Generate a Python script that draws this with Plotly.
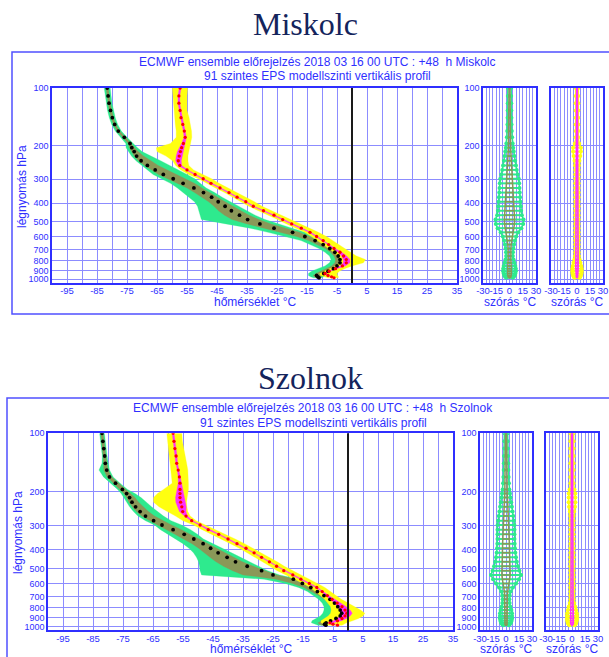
import math
import plotly.graph_objects as go

W, H = 609, 657

# ---------------- data ----------------
pressure_hpa = [100, 110, 120, 131, 143, 155, 168, 181, 195, 205, 215, 227, 240, 254, 268, 283, 298, 315,
                333, 352, 372, 393, 415, 438, 462, 487, 513, 540, 568, 597, 627, 658, 690, 722, 755, 788,
                820, 851, 880, 907, 932, 955, 970, 982]

temp_ticks = [-95, -85, -75, -65, -55, -45, -35, -25, -15, -5, 5, 15, 25, 35]
pres_ticks = [100, 200, 300, 400, 500, 600, 700, 800, 900, 1000]
spread_ticks = [-30, -15, 0, 15, 30]
freezing_c = 0

stations = ["Miskolc", "Szolnok"]

# Miskolc: temperature (red dots / yellow envelope / magenta IQR)
mis_t_ctrl = [-57.3, -57.7, -57.7, -57.3, -57.0, -56.4, -55.9, -55.6, -56.2, -56.8, -57.2, -57.6, -57.9, -57.4,
              -55.0, -52.3, -49.6, -47.0, -44.0, -41.0, -38.3, -35.4, -32.9, -29.5, -26.0, -23.1, -20.1, -16.9,
              -14.0, -11.8, -9.6, -7.8, -6.0, -4.0, -2.8, -1.9, -1.9, -3.2, -5.5, -7.6, -9.0, -8.0, -6.8, -6.0]
mis_t_min = [-59.9, -59.7, -59.6, -59.4, -59.1, -58.9, -58.6, -58.6, -60.5, -65.2, -65.0, -62.0, -59.8, -58.8,
             -57.0, -54.5, -51.2, -48.5, -45.5, -42.5, -39.8, -37.0, -34.4, -31.2, -27.8, -24.8, -21.8, -18.6,
             -15.8, -13.5, -11.5, -9.6, -8.0, -6.0, -4.8, -4.0, -4.2, -5.3, -7.5, -9.5, -10.8, -10.5, -9.0, -8.0]
mis_t_max = [-54.8, -55.0, -55.1, -55.0, -54.3, -53.8, -53.5, -53.4, -53.8, -54.2, -54.4, -54.7, -54.7, -54.4,
             -52.8, -49.5, -46.8, -44.3, -41.5, -38.5, -35.5, -32.5, -30.0, -26.8, -23.4, -20.5, -17.5, -14.3,
             -11.2, -8.5, -6.5, -4.5, -2.5, -0.5, 1.5, 4.5, 3.8, 0.0, -2.5, -4.2, -5.0, -4.8, -4.5, -4.6]
mis_t_q1 = [-57.6, -58.0, -58.0, -57.6, -57.3, -56.7, -56.2, -56.0, -56.8, -57.6, -58.2, -58.6, -58.8, -58.0,
            -55.4, -52.6, -49.9, -47.3, -44.3, -41.3, -38.6, -35.7, -33.2, -29.8, -26.3, -23.4, -20.4, -17.2,
            -14.3, -12.1, -9.9, -8.1, -6.4, -4.6, -3.5, -2.9, -2.9, -4.0, -6.0, -7.9, -9.3, -8.3, -7.1, -6.3]
mis_t_q3 = [-57.0, -57.4, -57.4, -57.0, -56.7, -56.1, -55.6, -55.2, -55.6, -56.0, -56.2, -56.6, -56.9, -56.8,
            -54.7, -52.0, -49.3, -46.7, -43.7, -40.7, -38.0, -35.1, -32.6, -29.2, -25.7, -22.8, -19.8, -16.6,
            -13.7, -11.5, -9.3, -7.5, -5.6, -3.4, -1.8, -0.7, -0.7, -2.3, -5.0, -7.3, -8.7, -7.7, -6.5, -5.7]
# Miskolc: dew point (black dots / green envelope / olive IQR)
mis_d_ctrl = [-81.6, -81.3, -81.0, -80.5, -79.9, -79.1, -77.9, -75.9, -74.0, -73.4, -72.6, -71.8, -70.3, -68.2,
              -65.6, -62.9, -59.6, -56.3, -52.7, -49.5, -46.8, -44.6, -42.3, -40.2, -37.5, -34.8, -30.7, -26.0,
              -19.8, -15.7, -12.3, -9.6, -7.4, -5.7, -4.6, -4.0, -4.0, -5.0, -6.2, -8.0, -9.4, -11.8, -11.4, -11.0]
mis_d_min = [-82.6, -82.3, -82.0, -81.5, -80.9, -80.1, -78.9, -77.0, -75.4, -75.3, -74.5, -73.5, -72.0, -70.0,
             -68.0, -66.3, -63.5, -60.5, -58.2, -56.3, -54.6, -52.5, -51.5, -51.0, -50.5, -50.2, -42.0, -34.0,
             -28.0, -22.0, -17.0, -14.0, -11.0, -9.0, -7.5, -7.0, -7.5, -9.0, -11.5, -13.5, -14.5, -14.5, -13.8, -12.8]
mis_d_max = [-80.6, -80.3, -80.0, -79.5, -78.9, -78.1, -76.9, -75.0, -73.0, -71.5, -70.0, -67.0, -63.8, -61.0,
             -57.8, -55.0, -52.4, -50.6, -48.6, -45.8, -43.3, -40.7, -38.0, -35.0, -32.3, -29.0, -24.7, -20.0,
             -15.6, -13.4, -10.8, -8.5, -6.3, -4.6, -3.4, -2.8, -2.8, -3.6, -5.0, -6.8, -8.0, -9.0, -9.5, -10.0]
mis_d_q1 = [-82.0, -81.7, -81.4, -80.9, -80.3, -79.5, -78.3, -76.4, -74.6, -74.2, -73.5, -72.6, -71.2, -69.2,
            -66.8, -64.5, -61.5, -58.3, -55.0, -52.5, -50.0, -47.8, -46.0, -44.5, -42.5, -40.0, -35.0, -29.5,
            -23.5, -18.5, -14.5, -11.5, -9.0, -7.2, -6.0, -5.5, -5.7, -6.8, -8.5, -10.5, -12.0, -13.0, -12.5, -12.0]
mis_d_q3 = [-81.2, -80.9, -80.6, -80.1, -79.5, -78.7, -77.5, -75.5, -73.5, -72.4, -71.3, -69.5, -67.0, -64.6,
            -61.5, -58.5, -55.5, -52.5, -50.0, -47.2, -44.8, -42.3, -39.8, -37.0, -34.3, -31.0, -27.0, -22.0,
            -17.5, -14.2, -11.4, -9.0, -6.8, -5.2, -4.0, -3.3, -3.3, -4.3, -5.6, -7.4, -8.7, -10.0, -10.2, -10.5]
# Miskolc: spread panels (half widths, °C)
mis_sd_out = [1.9, 1.9, 2.0, 2.1, 2.2, 2.3, 2.6, 3.0, 3.6, 4.2, 4.8, 5.6, 6.4, 7.3, 8.2, 9.4, 10.5, 11.0,
              11.3, 11.6, 12.0, 12.4, 12.8, 13.2, 14.0, 15.9, 15.5, 13.5, 10.0, 7.6, 6.2, 5.2, 4.4, 4.0, 3.8,
              4.6, 5.6, 6.6, 7.2, 7.2, 6.6, 6.0, 5.0, 3.8]
mis_sd_in = [0.5, 0.5, 0.5, 0.6, 0.6, 0.7, 0.8, 0.9, 1.1, 1.3, 1.5, 1.8, 2.1, 2.4, 2.8, 3.2, 3.6, 3.8, 4.0,
             4.2, 4.4, 4.6, 4.8, 5.0, 5.3, 5.8, 5.6, 4.8, 3.6, 2.8, 2.3, 1.9, 1.6, 1.4, 1.3, 1.5, 1.8, 2.1,
             2.3, 2.3, 2.1, 1.9, 1.6, 1.2]
mis_st_out = [1.5, 1.5, 1.5, 1.5, 1.5, 1.5, 1.5, 1.5, 2.5, 4.5, 4.5, 3.8, 2.8, 2.2, 1.9, 1.9, 1.9, 1.9,
              1.9, 1.9, 1.9, 1.9, 1.9, 1.9, 1.9, 1.9, 1.9, 1.9, 1.9, 1.9, 1.9, 1.9, 1.9, 1.9, 2.3, 3.0,
              4.0, 5.0, 5.5, 5.5, 5.2, 4.5, 3.8, 3.0]
mis_st_in = [0.5, 0.5, 0.5, 0.5, 0.5, 0.5, 0.5, 0.5, 0.9, 1.3, 1.3, 1.3, 1.1, 0.7, 0.5, 0.5, 0.5, 0.5,
             0.5, 0.5, 0.5, 0.5, 0.5, 0.5, 0.5, 0.5, 0.5, 0.5, 0.5, 0.5, 0.5, 0.5, 0.5, 0.5, 0.8, 1.1,
             1.3, 1.4, 1.4, 1.4, 1.3, 1.1, 0.9, 0.7]

# Szolnok
szo_t_ctrl = [-58.3, -58.0, -57.7, -57.3, -57.1, -56.6, -56.2, -56.0, -56.0, -56.0, -56.0, -55.8, -55.4, -55.1,
              -54.0, -52.1, -49.3, -46.6, -43.1, -40.0, -37.0, -34.0, -31.3, -28.8, -26.2, -23.8, -21.4, -18.4,
              -15.7, -12.9, -10.4, -8.6, -6.9, -5.3, -3.6, -2.0, -1.0, -0.4, -1.0, -2.0, -3.5, -6.0, -5.0, -3.5]
szo_t_min = [-60.4, -60.2, -59.9, -59.6, -59.3, -59.0, -58.8, -58.6, -61.5, -63.5, -64.8, -64.8, -63.0, -60.0,
             -57.5, -55.0, -51.5, -48.6, -45.3, -42.2, -39.2, -36.2, -33.5, -31.0, -28.5, -26.0, -23.6, -20.6,
             -17.9, -15.0, -12.6, -10.8, -9.2, -7.8, -6.6, -5.8, -5.6, -5.8, -6.6, -7.8, -9.0, -9.0, -7.8, -7.0]
szo_t_max = [-55.4, -55.2, -54.8, -54.3, -53.8, -53.4, -53.2, -53.2, -53.2, -53.4, -53.6, -53.8, -53.7, -53.4,
             -52.6, -50.6, -47.5, -44.6, -41.0, -37.6, -34.5, -31.5, -28.8, -26.2, -23.6, -21.2, -18.8, -15.8,
             -13.0, -10.2, -7.7, -5.8, -4.0, -2.2, -0.2, 2.2, 4.2, 5.6, 5.0, 3.5, 1.5, -0.5, -1.5, -2.0]
szo_t_q1 = [-58.6, -58.3, -58.0, -57.6, -57.4, -56.9, -56.6, -56.6, -57.0, -57.3, -57.5, -57.4, -56.9, -56.2,
            -54.5, -52.4, -49.6, -46.9, -43.4, -40.3, -37.3, -34.3, -31.6, -29.1, -26.5, -24.1, -21.7, -18.7,
            -16.0, -13.2, -10.7, -8.9, -7.3, -6.0, -4.6, -3.4, -2.7, -2.2, -2.7, -3.5, -4.8, -7.0, -5.6, -4.0]
szo_t_q3 = [-58.0, -57.7, -57.4, -57.0, -56.8, -56.3, -55.8, -55.4, -55.0, -54.7, -54.5, -54.2, -53.9, -54.0,
            -53.5, -51.8, -49.0, -46.3, -42.8, -39.7, -36.7, -33.7, -31.0, -28.5, -25.9, -23.5, -21.1, -18.1,
            -15.4, -12.6, -10.1, -8.3, -6.4, -4.5, -2.4, -0.6, 0.7, 1.4, 0.7, -0.5, -2.2, -5.0, -4.4, -3.0]
szo_d_ctrl = [-82.0, -81.7, -81.4, -81.1, -80.9, -80.4, -79.5, -77.5, -75.2, -73.8, -72.8, -72.0, -70.8, -69.3,
              -67.5, -64.8, -62.0, -58.3, -54.6, -51.4, -48.3, -45.8, -43.3, -40.3, -37.5, -33.6, -28.8, -25.0,
              -18.2, -15.2, -12.4, -10.2, -8.0, -6.0, -4.5, -3.4, -2.6, -2.1, -2.6, -4.0, -5.8, -7.3, -7.8, -7.4]
szo_d_min = [-82.8, -82.5, -82.2, -81.9, -82.0, -83.0, -81.5, -79.0, -76.8, -75.6, -74.8, -73.8, -72.8, -71.5,
             -70.0, -67.5, -64.5, -62.5, -60.0, -57.5, -55.0, -53.0, -51.5, -50.5, -49.8, -49.5, -49.3, -48.8,
             -28.0, -21.0, -16.5, -13.5, -11.5, -9.8, -8.6, -8.0, -8.0, -8.4, -9.2, -10.5, -12.0, -12.2, -11.0, -10.0]
szo_d_max = [-81.2, -80.9, -80.6, -80.3, -80.0, -79.5, -78.3, -76.0, -73.5, -71.0, -69.0, -67.2, -65.5, -63.5,
             -61.5, -59.0, -55.5, -52.5, -50.2, -48.2, -45.0, -42.0, -38.8, -35.8, -33.0, -29.8, -26.8, -22.8,
             -16.5, -13.0, -10.3, -8.3, -6.3, -4.5, -3.2, -2.2, -1.5, -1.2, -1.8, -3.0, -4.5, -6.0, -6.5, -6.8]
szo_d_q1 = [-82.4, -82.1, -81.8, -81.5, -81.4, -81.4, -80.3, -78.2, -75.9, -74.7, -73.8, -73.0, -71.9, -70.5,
            -68.8, -66.3, -63.5, -60.5, -57.5, -54.8, -52.0, -49.8, -48.0, -46.0, -44.0, -41.5, -38.5, -35.0,
            -24.0, -18.5, -14.8, -12.0, -9.8, -7.8, -6.5, -5.6, -5.2, -5.2, -5.8, -7.2, -8.8, -10.0, -9.6, -8.8]
szo_d_q3 = [-81.6, -81.3, -81.0, -80.7, -80.4, -80.0, -78.8, -76.7, -74.4, -72.5, -71.0, -69.8, -68.3, -66.5,
            -64.5, -61.8, -58.8, -55.5, -52.3, -49.8, -46.6, -43.8, -41.0, -38.0, -35.2, -31.5, -27.8, -23.8,
            -17.3, -14.2, -11.4, -9.3, -7.2, -5.3, -3.9, -2.8, -2.0, -1.6, -2.2, -3.5, -5.1, -6.6, -7.1, -7.1]
szo_sd_out = [1.9, 2.0, 2.1, 2.3, 2.5, 2.7, 3.0, 3.4, 3.9, 4.6, 5.3, 6.0, 6.8, 7.6, 8.4, 9.2, 9.7, 9.8,
              9.8, 9.8, 10.0, 10.3, 10.8, 11.5, 12.5, 13.8, 15.5, 17.4, 15.0, 11.6, 8.0, 5.5, 4.3, 3.9, 4.2,
              5.2, 6.2, 6.9, 7.0, 7.0, 6.5, 5.8, 4.5, 3.2]
szo_sd_in = [0.6, 0.6, 0.6, 0.7, 0.7, 0.8, 0.9, 1.0, 1.2, 1.4, 1.7, 2.0, 2.3, 2.6, 2.9, 3.2, 3.5, 3.7, 3.8,
             3.9, 3.9, 4.0, 4.1, 4.3, 4.6, 5.0, 5.0, 4.8, 4.2, 3.3, 2.5, 1.9, 1.6, 1.5, 1.5, 1.6, 1.7, 1.8,
             1.8, 1.8, 1.7, 1.6, 1.4, 1.2]
szo_st_out = [1.9, 1.9, 1.9, 1.9, 1.9, 1.9, 1.9, 1.9, 2.8, 3.8, 3.9, 3.9, 3.5, 2.5, 1.9, 1.9, 1.9, 1.9,
              1.9, 1.9, 1.9, 1.9, 1.9, 1.9, 1.9, 1.9, 1.9, 1.9, 1.9, 1.9, 1.9, 1.9, 1.9, 1.9, 2.6, 3.8,
              4.8, 5.6, 5.8, 5.8, 5.6, 5.0, 4.0, 3.0]
szo_st_in = [0.6, 0.6, 0.6, 0.6, 0.6, 0.6, 0.6, 0.6, 0.9, 1.2, 1.3, 1.3, 1.2, 0.9, 0.6, 0.6, 0.6, 0.6,
             0.6, 0.6, 0.6, 0.6, 0.6, 0.6, 0.6, 0.6, 0.6, 0.6, 0.6, 0.6, 0.6, 0.6, 0.6, 0.6, 0.8, 1.2,
             1.6, 1.8, 1.8, 1.8, 1.8, 1.6, 1.3, 1.0]

station_data = {
    "Miskolc": dict(t=(mis_t_ctrl, mis_t_min, mis_t_max, mis_t_q1, mis_t_q3),
                    d=(mis_d_ctrl, mis_d_min, mis_d_max, mis_d_q1, mis_d_q3),
                    sd=(mis_sd_out, mis_sd_in), st=(mis_st_out, mis_st_in)),
    "Szolnok": dict(t=(szo_t_ctrl, szo_t_min, szo_t_max, szo_t_q1, szo_t_q3),
                    d=(szo_d_ctrl, szo_d_min, szo_d_max, szo_d_q1, szo_d_q3),
                    sd=(szo_sd_out, szo_sd_in), st=(szo_st_out, szo_st_in)),
}

# ---------------- layout geometry (pixels) ----------------
geom = {
    "Miskolc": dict(name_xy=(305, 24), frame=(12, 52, 640, 314), main=(52, 457), s1=(483, 536), s2=(551, 603),
                    top=88, bot=283, t1=62, t2=76, tx=317, ytit=(22, 187), xtit_y=302),
    "Szolnok": dict(name_xy=(310, 378), frame=(7, 398, 640, 700), main=(48, 453), s1=(480, 532), s2=(546, 598),
                    top=433.3, bot=630.4, t1=408, t2=423, tx=313, ytit=(18, 533), xtit_y=649),
}

BLUE = "#2F2FFF"
GRID = "#8C8CFF"
GREEN = "#2EEA8E"
OLIVE = "#8A9858"
YELLOW = "#FFFF10"
MAGENTA = "#FF2EFF"
NAVY = "#14245C"
FONT = "Liberation Sans, Arial, sans-serif"

fig = go.Figure()
layout = dict(width=W, height=H, autosize=False, margin=dict(l=0, r=0, t=0, b=0, pad=0),
              paper_bgcolor="white", plot_bgcolor="white", showlegend=False)
shapes, annotations = [], []


def px(x):
    return x / W


def py(y):
    return 1 - y / H


def band(lo, hi):
    return list(lo) + list(hi)[::-1], list(pressure_hpa) + list(pressure_hpa)[::-1]


def rungs(half):
    xs, ys = [], []
    for p, s in zip(pressure_hpa, half):
        xs += [-s, s, None]
        ys += [p, p, None]
    return xs, ys


ylog_range = [math.log10(1045), 2]

for k, st in enumerate(stations):
    g = geom[st]
    dat = station_data[st]
    for j, key in enumerate(["main", "s1", "s2"]):
        n = 3 * k + j + 1
        xa = "xaxis" if n == 1 else f"xaxis{n}"
        ya = "yaxis" if n == 1 else f"yaxis{n}"
        xs = "x" if n == 1 else f"x{n}"
        ys = "y" if n == 1 else f"y{n}"
        x0, x1 = g[key]
        common = dict(showline=True, mirror=True, linecolor=BLUE, linewidth=1.5, zeroline=False,
                      showgrid=True, gridcolor=GRID, gridwidth=1, ticks="", automargin=False,
                      tickangle=0, fixedrange=True)
        if key == "main":
            xcfg = dict(range=[-100, 35], tickmode="array", tickvals=temp_ticks,
                        ticktext=[str(v) for v in temp_ticks],
                        tickfont=dict(family=FONT, size=9.5, color=BLUE),
                        minor=dict(tick0=-100, dtick=5, showgrid=True, gridcolor=GRID, gridwidth=1, ticks=""))
        else:
            xcfg = dict(range=[-30, 30], tickmode="array", tickvals=spread_ticks,
                        ticktext=[str(v) for v in spread_ticks],
                        tickfont=dict(family=FONT, size=9.5, color=BLUE),
                        minor=dict(tick0=0, dtick=3.75, showgrid=True, gridcolor=GRID, gridwidth=1, ticks=""))
        layout[xa] = dict(domain=[px(x0), px(x1)], anchor=ys, ticklabelstandoff=-2, **xcfg, **common)
        layout[ya] = dict(domain=[py(g["bot"]), py(g["top"])], anchor=xs, type="log", range=ylog_range,
                          tickmode="array", tickvals=pres_ticks, ticktext=[str(v) for v in pres_ticks],
                          tickfont=dict(family=FONT, size=9, color=BLUE),
                          showticklabels=(key != "s2"), **common)

        if key == "main":
            t_ctrl, t_min, t_max, t_q1, t_q3 = dat["t"]
            d_ctrl, d_min, d_max, d_q1, d_q3 = dat["d"]
            for lo, hi, col in [(d_min, d_max, GREEN), (d_q1, d_q3, OLIVE),
                                (t_min, t_max, YELLOW), (t_q1, t_q3, MAGENTA)]:
                bx, by = band(lo, hi)
                fig.add_trace(go.Scatter(x=bx, y=by, mode="lines", fill="toself", fillcolor=col,
                                         line=dict(color=col, width=0.3), xaxis=xs, yaxis=ys,
                                         hoverinfo="skip"))
            fig.add_trace(go.Scatter(x=d_ctrl, y=pressure_hpa, mode="markers",
                                     marker=dict(color="black", size=3.8), xaxis=xs, yaxis=ys))
            fig.add_trace(go.Scatter(x=t_ctrl, y=pressure_hpa, mode="markers",
                                     marker=dict(color="#FF0000", size=3.3), xaxis=xs, yaxis=ys))
            shapes.append(dict(type="line", xref=xs, yref=f"{ys} domain", x0=freezing_c, x1=freezing_c,
                               y0=0, y1=1, line=dict(color="#1A1A1A", width=2), layer="above"))
        else:
            out, inn = dat["sd"] if key == "s1" else dat["st"]
            c_out, c_in = (GREEN, OLIVE) if key == "s1" else (YELLOW, MAGENTA)
            rx, ry = rungs(out)
            fig.add_trace(go.Scatter(x=rx, y=ry, mode="lines", line=dict(color=c_out, width=2),
                                     xaxis=xs, yaxis=ys, hoverinfo="skip"))
            for sgn in (-1, 1):
                fig.add_trace(go.Scatter(x=[sgn * s for s in out], y=pressure_hpa, mode="lines+markers",
                                         line=dict(color=c_out, width=1.5),
                                         marker=dict(color=c_out, size=4), xaxis=xs, yaxis=ys))
            ix, iy = rungs(inn)
            fig.add_trace(go.Scatter(x=ix, y=iy, mode="lines", line=dict(color=c_in, width=1.5),
                                     xaxis=xs, yaxis=ys, hoverinfo="skip"))
            for sgn in (-1, 1):
                fig.add_trace(go.Scatter(x=[sgn * s for s in inn], y=pressure_hpa, mode="lines",
                                         line=dict(color=c_in, width=1.5), xaxis=xs, yaxis=ys))
            annotations.append(dict(text="szórás °C", x=px((x0 + x1) / 2), y=py(g["xtit_y"]),
                                    xref="paper", yref="paper", showarrow=False,
                                    font=dict(family=FONT, size=12, color=BLUE),
                                    xanchor="center", yanchor="middle"))

    # frame
    fx0, fy0, fx1, fy1 = g["frame"]
    shapes.append(dict(type="rect", xref="paper", yref="paper", x0=px(fx0), x1=px(fx1),
                       y0=py(fy1), y1=py(fy0), line=dict(color="#5050FF", width=1.5), layer="below"))
    # station name
    annotations.append(dict(text=st, x=px(g["name_xy"][0]), y=py(g["name_xy"][1]), xref="paper",
                            yref="paper", showarrow=False, xanchor="center", yanchor="middle",
                            font=dict(family="Liberation Serif, Times New Roman, serif", size=32, color=NAVY)))
    annotations.append(dict(text=f"ECMWF ensemble előrejelzés 2018 03 16 00 UTC : +48 \u00a0h {st}",
                            x=px(g["tx"]), y=py(g["t1"]), xref="paper", yref="paper", showarrow=False,
                            xanchor="center", yanchor="middle", font=dict(family=FONT, size=12, color=BLUE)))
    annotations.append(dict(text="91 szintes EPS modellszinti vertikális profil",
                            x=px(g["tx"]), y=py(g["t2"]), xref="paper", yref="paper", showarrow=False,
                            xanchor="center", yanchor="middle", font=dict(family=FONT, size=12, color=BLUE)))
    annotations.append(dict(text="légnyomás hPa", x=px(g["ytit"][0]), y=py(g["ytit"][1]), xref="paper",
                            yref="paper", showarrow=False, textangle=-90, xanchor="center",
                            yanchor="middle", font=dict(family=FONT, size=12, color=BLUE)))
    mx0, mx1 = g["main"]
    annotations.append(dict(text="hőmérséklet °C", x=px((mx0 + mx1) / 2), y=py(g["xtit_y"]), xref="paper",
                            yref="paper", showarrow=False, xanchor="center", yanchor="middle",
                            font=dict(family=FONT, size=12, color=BLUE)))

layout["shapes"] = shapes
layout["annotations"] = annotations
fig.update_layout(**layout)
fig.write_html("out.html", config={"displayModeBar": False},
               post_script="document.documentElement.style.margin='0';document.body.style.margin='0';"
                           "document.body.style.overflow='hidden';")
